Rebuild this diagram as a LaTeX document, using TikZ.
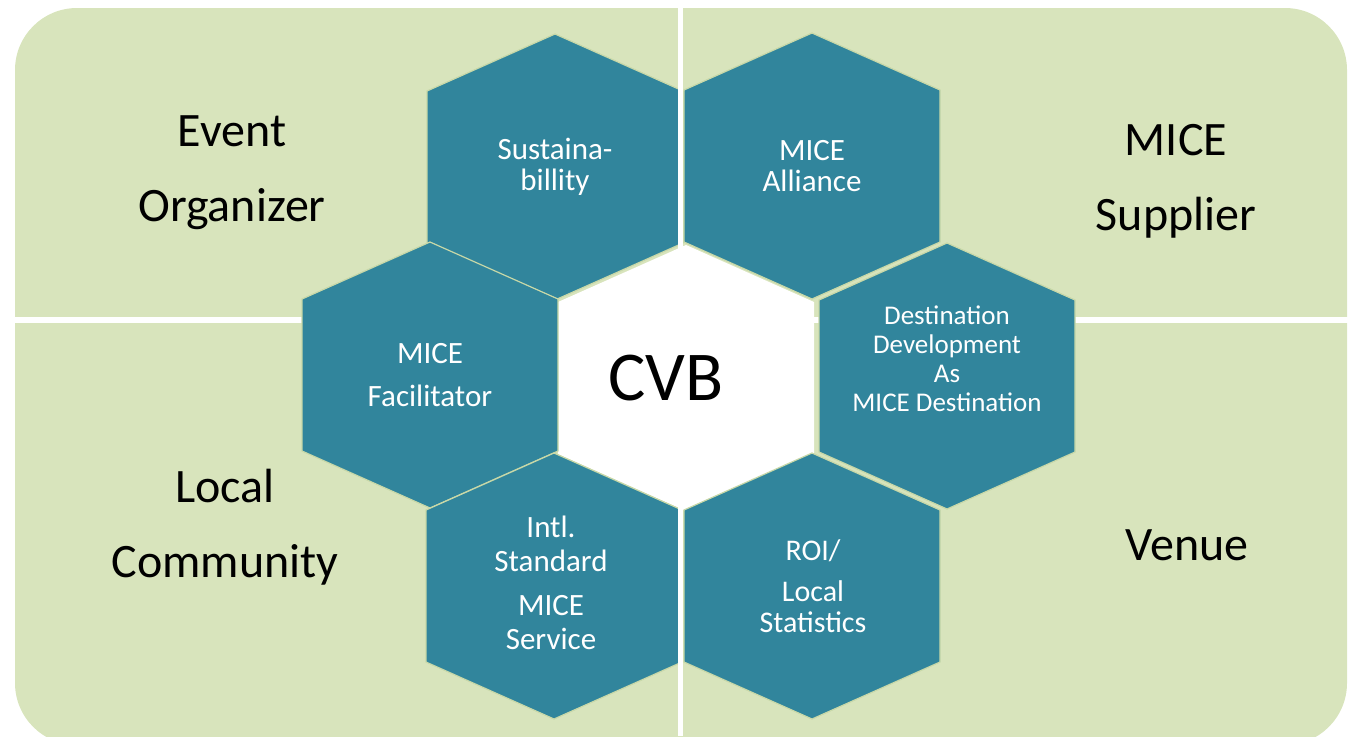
\documentclass[tikz,border=0pt]{standalone}
\usepackage{fontspec}
\setmainfont{Carlito}
\usepackage{tikz}
\definecolor{bggreen}{RGB}{216,228,188}
\definecolor{hexteal}{RGB}{49,133,156}
\definecolor{seam}{RGB}{200,216,168}

\begin{document}
\begin{tikzpicture}[x=0.5pt, y=-0.5pt,
  hexcell/.style={fill=hexteal, draw=seam, line width=0.6pt},
  hextext/.style={text=white, align=center, font=\fontsize{15.5}{15.5}\selectfont},
  role/.style={align=center, font=\fontsize{24}{37.5}\selectfont}]
\useasboundingbox (0,0) rectangle (1349,736);
\fill[bggreen, rounded corners=31pt] (15,8) rectangle (1347,745);
\fill[white] (0,317) rectangle (1349,323);
\fill[white] (686,245) -- (814,302) -- (814,454) -- (686,511) -- (558,454) -- (558,302) -- cycle;
\foreach \cx/\cy in {555/167, 812/166, 430/375, 947/376, 554/586, 812/586}
  \filldraw[hexcell] (\cx,\cy-133) -- (\cx+128,\cy-76) -- (\cx+128,\cy+76) -- (\cx,\cy+133) -- (\cx-128,\cy+76) -- (\cx-128,\cy-76) -- cycle;
\fill[white] (678,0) rectangle (683,736);

\node[role] (organizer) at (232,173) {Event\\Organizer};
\node[role] (supplier) at (1176,181) {MICE\\Supplier};
\node[role] (community) at (225,527) {Local\\Community};
\node[role] (venue) at (1187,545) {Venue};
\node[font=\fontsize{35}{40}\selectfont] (cvb) at (666,378) {CVB};

\node[hextext] (sustain) at (555,167) {Sustaina-\\billity};
\node[hextext] (alliance) at (812,166) {MICE\\Alliance};
\node[hextext] (facilitator) at (430,375) {MICE\\[6pt]Facilitator};
\node[hextext, font=\fontsize{13.5}{14.5}\selectfont] (destination) at (947,359) {Destination\\Development\\As\\MICE Destination};
\node[hextext, font=\fontsize{15.5}{17}\selectfont] (standard) at (551,583) {Intl.\\Standard\\[5pt]MICE\\Service};
\node[hextext, font=\fontsize{15}{15.5}\selectfont] (roi) at (813,586) {ROI/\\[5pt]Local\\Statistics};
\end{tikzpicture}
\end{document}
